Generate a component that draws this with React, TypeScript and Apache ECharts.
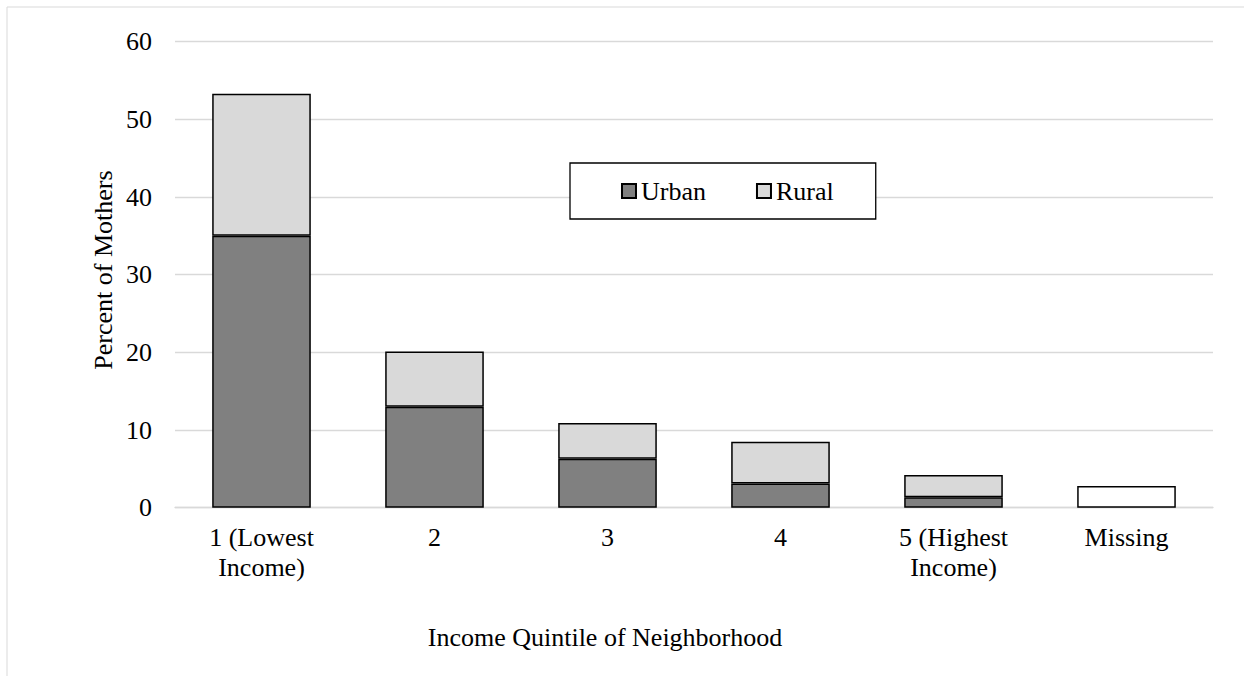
import React, { useEffect, useRef } from "react";
import * as echarts from "echarts";

const categories = [
  "1 (Lowest\nIncome)",
  "2",
  "3",
  "4",
  "5 (Highest\nIncome)",
  "Missing",
];
const urban = [35.0, 13.0, 6.3, 3.1, 1.35, null];
const rural = [18.3, 7.1, 4.6, 5.4, 2.85, null];
const missing = [null, null, null, null, null, 2.8];
const yMin = 0;
const yMax = 60;
const yInterval = 10;
const yAxisTitle = "Percent of Mothers";
const xAxisTitle = "Income Quintile of Neighborhood";

const FONT = "Liberation Serif";

export default function App() {
  const ref = useRef<HTMLDivElement>(null);
  useEffect(() => {
    if (!ref.current) return;
    const chart = echarts.init(ref.current, null, { renderer: "svg" });
    const border = { borderColor: "#000", borderWidth: 1.5 };
    chart.setOption({
      animation: false,
      backgroundColor: "#fff",
      textStyle: { fontFamily: FONT },
      grid: { left: 175, right: 31, top: 41.7, bottom: 168.3, containLabel: false },
      legend: {
        data: ["Urban", "Rural"],
        left: 570,
        top: 163,
        orient: "horizontal",
        icon: "rect",
        backgroundColor: "#fff",
        borderColor: "#000",
        borderWidth: 1.3,
        padding: [15, 42, 15, 51],
        itemWidth: 14,
        itemHeight: 14,
        itemGap: 50,
        textStyle: { fontFamily: FONT, fontSize: 26, color: "#000", lineHeight: 26 },
      },
      xAxis: {
        type: "category",
        data: categories,
        axisLine: { show: true, lineStyle: { color: "#d9d9d9", width: 1.3 } },
        axisTick: { show: false },
        axisLabel: {
          interval: 0,
          fontFamily: FONT,
          fontSize: 26,
          lineHeight: 30,
          color: "#000",
          margin: 15,
        },
      },
      yAxis: {
        type: "value",
        min: yMin,
        max: yMax,
        interval: yInterval,
        axisLine: { show: false },
        axisTick: { show: false },
        splitLine: { lineStyle: { color: "#d9d9d9", width: 1.3 } },
        axisLabel: { fontFamily: FONT, fontSize: 26, color: "#000", margin: 23 },
      },
      graphic: [
        {
          type: "rect",
          shape: { x: 7, y: 7, width: 1400, height: 800 },
          style: { fill: "none", stroke: "#d9d9d9", lineWidth: 1 },
          silent: true,
          z: 100,
        },
        {
          type: "text",
          x: 605,
          y: 637,
          style: {
            text: xAxisTitle,
            fontFamily: FONT,
            fontSize: 26,
            fill: "#000",
            textAlign: "center",
            textVerticalAlign: "middle",
          },
        },
        {
          type: "text",
          x: 103,
          y: 270,
          rotation: Math.PI / 2,
          style: {
            text: yAxisTitle,
            fontFamily: FONT,
            fontSize: 26,
            fill: "#000",
            textAlign: "center",
            textVerticalAlign: "middle",
          },
        },
      ],
      series: [
        {
          name: "Urban",
          type: "bar",
          stack: "total",
          data: urban,
          barCategoryGap: "43%",
          itemStyle: { color: "#808080", ...border },
        },
        {
          name: "Rural",
          type: "bar",
          stack: "total",
          data: rural,
          itemStyle: { color: "#d9d9d9", ...border },
        },
        {
          name: "Missing",
          type: "bar",
          stack: "total",
          data: missing,
          itemStyle: { color: "#ffffff", ...border },
        },
      ],
    });
    return () => chart.dispose();
  }, []);
  return (
    <div
      ref={ref}
      style={{ position: "fixed", left: 0, top: 0, width: 1244, height: 676 }}
    />
  );
}
